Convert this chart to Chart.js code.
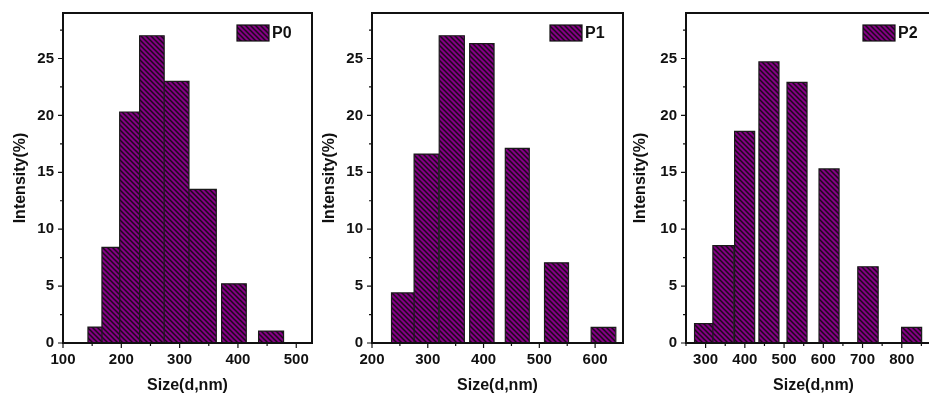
<!DOCTYPE html>
<html>
<head>
<meta charset="utf-8">
<script src="https://cdn.jsdelivr.net/npm/chart.js@4/dist/chart.umd.min.js"></script>
<style>
body { margin: 0; background: #fff; width: 929px; height: 399px; overflow: hidden; position: relative; }
canvas { position: absolute; top: 0; }
</style>
</head>
<body>
<canvas id="c0" width="318" height="399" style="left:0px"></canvas>
<canvas id="c1" width="318" height="399" style="left:309px"></canvas>
<canvas id="c2" width="330" height="399" style="left:620px"></canvas>
<script>
// bins (size in nm), intensity in %
const p0Start = [142.8, 166.8, 197.2, 231.4, 273.5, 316.0, 372.0, 435.4];
const p0End   = [166.8, 197.2, 231.4, 273.5, 316.0, 362.9, 414.3, 478.2];
const p0Int   = [1.4, 8.4, 20.3, 27.0, 23.0, 13.5, 5.2, 1.05];

const p1Start = [235.0, 275.5, 320.5, 375.1, 439.0, 509.3, 592.9];
const p1End   = [275.5, 319.6, 365.6, 418.8, 482.0, 552.3, 637.1];
const p1Int   = [4.4, 16.6, 27.0, 26.3, 17.1, 7.05, 1.38];

const p2Start = [271.8, 318.5, 373.9, 435.9, 507.5, 589.1, 687.9, 799.5];
const p2End   = [318.5, 372.1, 425.0, 487.0, 558.5, 640.2, 739.8, 850.6];
const p2Int   = [1.7, 8.55, 18.6, 24.7, 22.9, 15.3, 6.7, 1.38];

const p0Ticks = [100, 200, 300, 400, 500];
const p0Minor = [150, 250, 350, 450];
const p1Ticks = [200, 300, 400, 500, 600];
const p1Minor = [250, 350, 450, 550];
const p2Ticks = [300, 400, 500, 600, 700, 800];
const p2Minor = [250, 350, 450, 550, 650, 750, 850];

const yTicks = [0, 5, 10, 15, 20, 25];
const yMinor = [2.5, 7.5, 12.5, 17.5, 22.5, 27.5];

const FONT = 'Liberation Sans, Arial, sans-serif';

function hatch() {
    let s = 5;
    let c = document.createElement('canvas');
    c.width = s; c.height = s;
    let g = c.getContext('2d');
    g.fillStyle = '#850085';
    g.fillRect(0, 0, s, s);
    g.strokeStyle = '#1a0a1a';
    g.lineWidth = 1.5;
    g.beginPath();
    for (let k = -1; k <= 1; k++) {
        g.moveTo(k * s - 1, -1);
        g.lineTo(k * s + s + 1, s + 1);
    }
    g.stroke();
    return g.createPattern(c, 'repeat');
}

// frame, tick marks and the legend box
const framePlugin = {
    id: 'frame',
    afterDatasetsDraw(chart) {
        const o = chart.options.plugins.frame;
        const {ctx, chartArea: a, scales: {x, y}} = chart;
        ctx.save();
        ctx.strokeStyle = '#111';
        ctx.lineWidth = 1.2;
        ctx.beginPath();
        for (const v of o.xMajor) { let px = x.getPixelForValue(v); ctx.moveTo(px, a.bottom); ctx.lineTo(px, a.bottom + 5); }
        for (const v of o.xMinor) { let px = x.getPixelForValue(v); ctx.moveTo(px, a.bottom); ctx.lineTo(px, a.bottom + 3); }
        for (const v of yTicks) { let py = y.getPixelForValue(v); ctx.moveTo(a.left, py); ctx.lineTo(a.left - 5, py); }
        for (const v of yMinor) { let py = y.getPixelForValue(v); ctx.moveTo(a.left, py); ctx.lineTo(a.left - 3, py); }
        ctx.stroke();

        ctx.lineWidth = 2;
        ctx.strokeRect(a.left, a.top, a.right - a.left, a.bottom - a.top);

        // legend
        let lx = a.left + o.legendX, ly = 25;
        ctx.fillStyle = chart.data.datasets[0].backgroundColor;
        ctx.fillRect(lx, ly, 32, 16);
        ctx.lineWidth = 1.2;
        ctx.strokeRect(lx, ly, 32, 16);
        ctx.fillStyle = '#111';
        ctx.font = 'bold 16px ' + FONT;
        ctx.textBaseline = 'middle';
        ctx.fillText(chart.data.datasets[0].label, lx + 35, ly + 8.5);
        ctx.restore();
    }
};

function makeChart(id, name, starts, ends, vals, xMin, xMax, xMajor, xMinor, axisW, padRight, legendX) {
    let pts = [];
    for (let i = 0; i < starts.length; i++) {
        pts.push({x: starts[i], y: 0});
        pts.push({x: starts[i], y: vals[i]});
        pts.push({x: ends[i], y: vals[i]});
        pts.push({x: ends[i], y: 0});
    }
    return new Chart(document.getElementById(id), {
        type: 'line',
        data: {
            datasets: [{
                label: name,
                data: pts,
                fill: 'origin',
                backgroundColor: hatch(),
                borderColor: '#1a1a1a',
                borderWidth: 1.2,
                pointRadius: 0,
                tension: 0
            }]
        },
        options: {
            responsive: false,
            animation: false,
            devicePixelRatio: 1,
            layout: { padding: { left: 0, right: padRight, top: 13, bottom: 0 } },
            plugins: {
                legend: { display: false },
                tooltip: { enabled: false },
                frame: { xMajor: xMajor, xMinor: xMinor, legendX: legendX }
            },
            scales: {
                x: {
                    type: 'linear',
                    min: xMin,
                    max: xMax,
                    afterBuildTicks: s => { s.ticks = xMajor.map(v => ({value: v})); },
                    afterFit: s => { s.height = 56; s.paddingLeft = 0; s.paddingRight = 0; },
                    grid: { display: false, drawTicks: false },
                    border: { display: false },
                    ticks: { color: '#111', font: { family: FONT, size: 15, weight: 'bold' }, padding: 8, maxRotation: 0, autoSkip: false },
                    title: { display: true, text: 'Size(d,nm)', color: '#111', font: { family: FONT, size: 16, weight: 'bold' }, padding: { top: 0, bottom: 4 } }
                },
                y: {
                    min: 0,
                    max: 29,
                    afterBuildTicks: s => { s.ticks = yTicks.map(v => ({value: v})); },
                    afterFit: s => { s.width = axisW; s.paddingTop = 0; s.paddingBottom = 0; },
                    grid: { display: false, drawTicks: false },
                    border: { display: false },
                    ticks: { color: '#111', font: { family: FONT, size: 15, weight: 'bold' }, padding: 9 },
                    title: { display: true, text: 'Intensity(%)', color: '#111', font: { family: FONT, size: 16, weight: 'bold' }, padding: { top: 11, bottom: 0 } }
                }
            }
        },
        plugins: [framePlugin]
    });
}

makeChart('c0', 'P0', p0Start, p0End, p0Int, 100, 527, p0Ticks, p0Minor, 63, 6, 174);
makeChart('c1', 'P1', p1Start, p1End, p1Int, 200, 650, p1Ticks, p1Minor, 63, 4, 178);
makeChart('c2', 'P2', p2Start, p2End, p2Int, 250, 900, p2Ticks, p2Minor, 66, 9, 177);
</script>
</body>
</html>
